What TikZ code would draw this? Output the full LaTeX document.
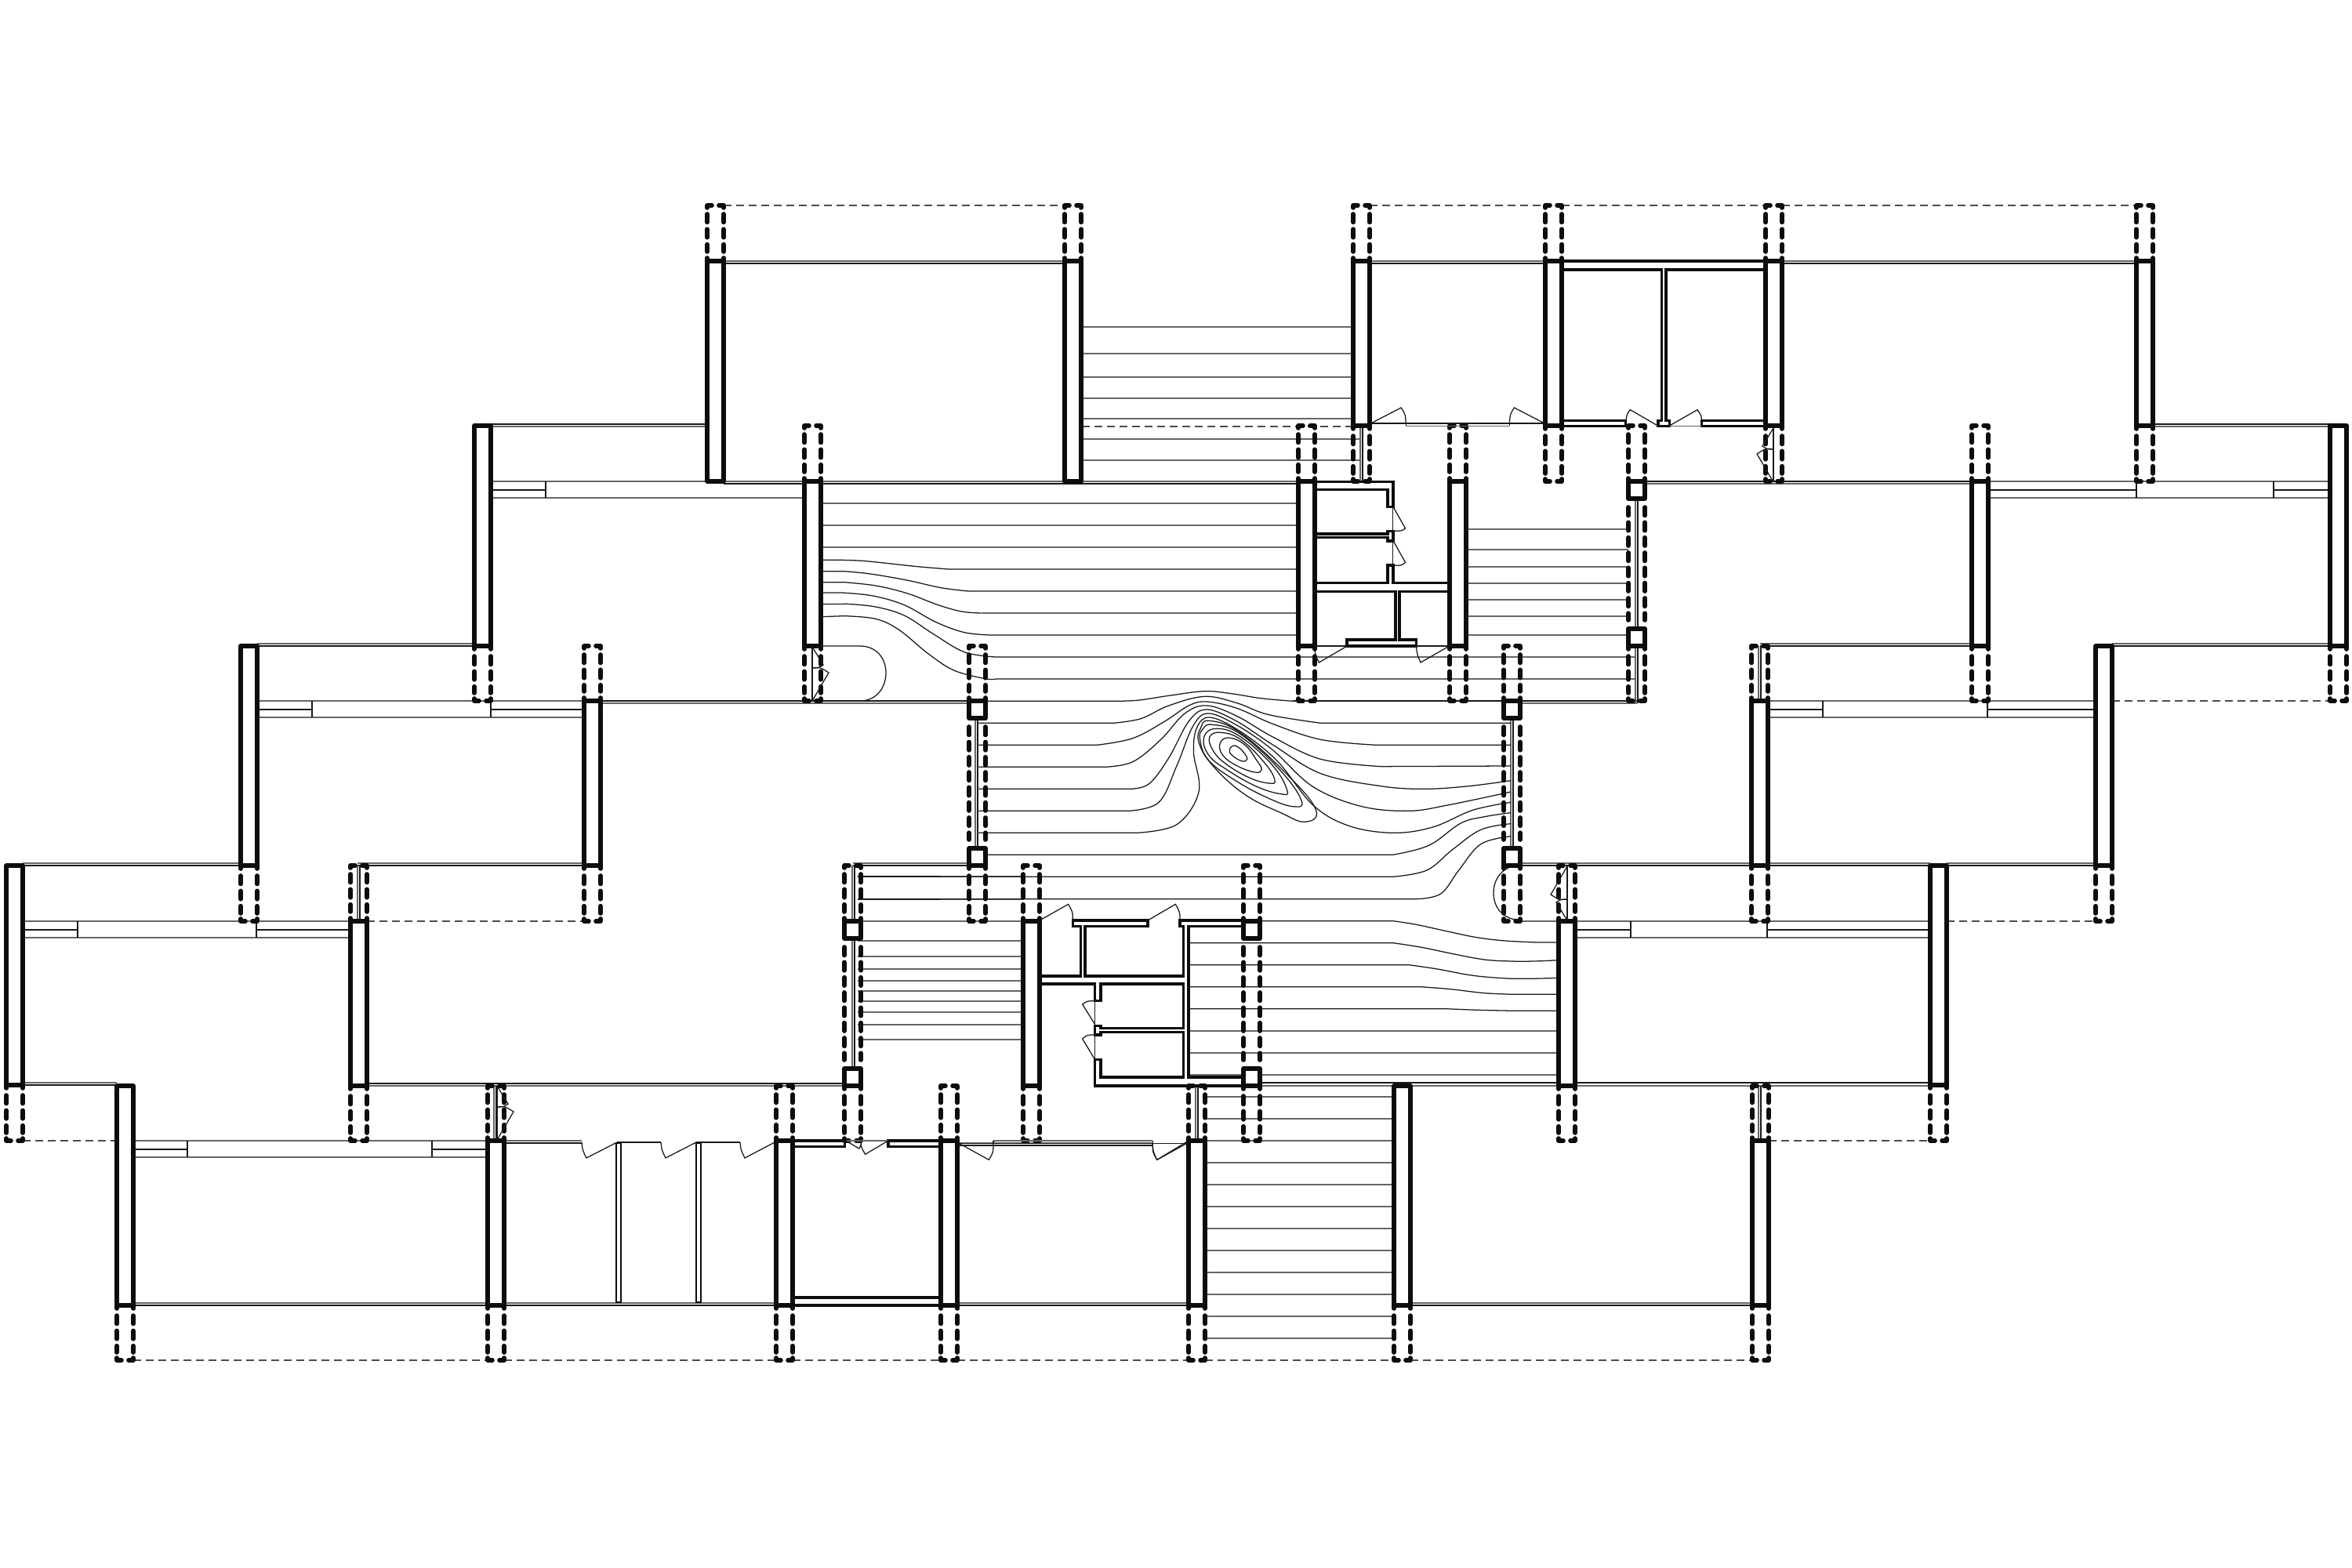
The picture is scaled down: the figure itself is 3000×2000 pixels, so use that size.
\documentclass[tikz,border=0pt]{standalone}
\colorlet{wallc}{black!95}
\tikzset{
 wall/.style={line width=1.6pt,draw=wallc,fill=white,line join=round},
 corew/.style={line width=1pt,draw=wallc,line join=miter},
 dashw/.style={line width=1.6pt,draw=wallc,line cap=round,dash pattern=on .105cm off .088cm},
 hookw/.style={line width=1.6pt,draw=wallc,line cap=round,line join=round},
 tl/.style={line width=.36pt,draw=black!90},
 gl/.style={line width=.42pt,draw=black!60},
 dl/.style={line width=.36pt,draw=black!70,dash pattern=on .1cm off .06cm},
}
\newcommand{\wSolid}[3]{\draw[wall] (#1,#2) rectangle (#1+21,#3);}
\newcommand{\wV}[3]{\draw[dashw] (#1,#2)--(#1,#3);\draw[dashw] (#1+21,#2)--(#1+21,#3);}
\newcommand{\wUp}[3]{\wV{#1}{#2+11}{#3-12}
 \draw[hookw] (#1,#2+3)--(#1,#2)--(#1+6,#2);\draw[hookw] (#1+21,#2+3)--(#1+21,#2)--(#1+15,#2);
 \draw[hookw] (#1,#3-4)--(#1,#3);\draw[hookw] (#1+21,#3-4)--(#1+21,#3);}
\newcommand{\wDn}[3]{\wV{#1}{#2+13}{#3-10}
 \draw[hookw] (#1,#3-3)--(#1,#3)--(#1+6,#3);\draw[hookw] (#1+21,#3-3)--(#1+21,#3)--(#1+15,#3);
 \draw[hookw] (#1,#2+4)--(#1,#2);\draw[hookw] (#1+21,#2+4)--(#1+21,#2);}
\newcommand{\wMid}[3]{\wV{#1}{#2+11}{#3-11}}
\newcommand{\wBox}[5]{\wUp{#1}{#2}{#3}\wSolid{#1}{#3}{#3+22}\wMid{#1}{#3+22}{#4-22}\wSolid{#1}{#4-22}{#4}\wDn{#1}{#4}{#5}}
\newcommand{\wDbl}[4]{\draw[gl] (#1,#3)--(#2,#3);\draw[tl] (#1,#4)--(#2,#4);}
\newcommand{\vDbl}[3]{\draw[gl] (#1,#2)--(#1,#3);\draw[tl] (#1+3,#2)--(#1+3,#3);}
\newcommand{\hL}[3]{\draw[gl] (#1,#3)--(#2,#3);}
\newcommand{\dashL}[3]{\draw[dl] (#1,#3)--(#2,#3);}
\newcommand{\doorv}[4]{\begin{scope}[shift={(#1,#2)},xscale=#3,yscale=#4]
 \draw[tl] (0,0)--(0,69);
 \draw[tl] (0,0)--(14,23) .. controls (8,27) .. (0,27);
 \draw[tl] (0,69)--(21,33) .. controls (10,26) .. (0,27);
 \end{scope}}
\newcommand{\winband}[7]{% x1 x2 y vert1 vert2 mid-end mid-start
 \draw[gl] (#1,#3)--(#2,#3);\draw[gl] (#1,#3+21)--(#2,#3+21);
 \draw[tl] (#4,#3)--(#4,#3+21);\draw[tl] (#5,#3)--(#5,#3+21);
 \draw[tl] (#1,#3+11)--(#6,#3+11);\draw[tl] (#7,#3+11)--(#2,#3+11);}
\begin{document}
\begin{tikzpicture}[x=0.01cm,y=-0.01cm]
\useasboundingbox[fill=white] (0,0) rectangle (3000,2000);

% ---- thin dashed outer lines
\dashL{923}{1358}{262}\dashL{1747}{1971}{262}\dashL{1992}{2252}{262}\dashL{2273}{2725}{262}
\dashL{1380}{1726}{544}
\dashL{2694}{2972}{894}
\dashL{468}{745}{1175}\dashL{2483}{2673}{1175}
\dashL{29}{149}{1455}\dashL{2256}{2462}{1455}
\dashL{170}{622}{1735}\dashL{643}{990}{1735}\dashL{1011}{1200}{1735}\dashL{1221}{1516}{1735}\dashL{1537}{1778}{1735}\dashL{1799}{2235}{1735}

% ---- double wall lines
\wDbl{923}{1358}{333}{336}\wDbl{1747}{1971}{333}{336}\wDbl{2273}{2725}{333}{336}
\wDbl{626}{902}{544}{541}\wDbl{2747}{2972}{544}{541}
\wDbl{923}{1656}{614}{617}\wDbl{2097}{2515}{617}{614}
\wDbl{328}{605}{821}{824}\wDbl{2245}{2515}{821}{824}\wDbl{2694}{2972}{821}{824}
\wDbl{745}{1236}{897}{894}\wDbl{1940}{2088}{897}{894}
\wDbl{29}{307}{1101}{1104}\wDbl{456}{745}{1101}{1104}\wDbl{1088}{1236}{1101}{1104}\wDbl{1940}{2234}{1101}{1104}\wDbl{2245}{2462}{1101}{1104}\wDbl{2483}{2673}{1101}{1104}
\wDbl{29}{149}{1381}{1384}\wDbl{468}{1077}{1385}{1382}\wDbl{1607}{2462}{1385}{1381}
\wDbl{170}{990}{1662}{1665}\wDbl{1221}{1516}{1662}{1665}\wDbl{1799}{2235}{1662}{1665}
\wDbl{643}{742}{1455}{1458}\wDbl{1221}{1470}{1458}{1461}
\draw[tl] (787,1457)--(843,1457) (888,1457)--(944,1457);

% ---- window bands
\winband{626}{1026}{614}{696}{696}{696}{1026}
\winband{328}{745}{894}{398}{626}{398}{626}
\winband{2256}{2673}{894}{2325}{2535}{2325}{2535}
\winband{29}{447}{1175}{99}{327}{99}{327}
\winband{2010}{2462}{1175}{2080}{2254}{2080}{2254}
\winband{170}{622}{1455}{239}{551}{239}{551}
\winband{2536}{2972}{614}{2725}{2900}{2725}{2900}
\draw[gl] (1940,1175)--(1988,1175);

% ---- vertical windows
\vDbl{1735}{543}{614}\vDbl{2086}{637}{802}\vDbl{2086}{824}{897}
\vDbl{1244}{917}{1082}\vDbl{1927}{917}{1082}
\vDbl{1087}{1104}{1175}\vDbl{1087}{1196}{1363}
\vDbl{456}{1104}{1175}\vDbl{630}{1385}{1455}\vDbl{2243}{824}{894}\vDbl{2243}{1385}{1455}
\vDbl{1525}{1385}{1455}

% ---- stair lines
\foreach \y in {417,451,481,508,534}{\hL{1380}{1726}{\y}}
\foreach \y in {560,587}{\hL{1380}{1735}{\y}}
\foreach \y in {642,670}{\hL{1047}{1656}{\y}}
\foreach \y in {675,701,723,744,765,786,810}{\hL{1870}{2077}{\y}}
\hL{1047}{1656}{698}
\hL{1210}{1656}{726}\hL{1235}{1656}{754}\hL{1252}{1656}{782}\hL{1263}{1656}{810}
\foreach \y in {838,866}{\hL{1270}{2086}{\y}}
\draw[tl] (1649,894)--(1918,894);
\foreach \y in {1200,1220,1236,1251,1264,1277,1291,1307,1326}{\hL{1094}{1305}{\y}}
\foreach \y in {1118,1147,1175}{\hL{1094}{1305}{\y}}
\foreach \y in {1315,1343,1371}{\hL{1516}{1988}{\y}}
\foreach \y in {1399,1427,1455,1483,1511,1539,1567,1595,1623,1651,1679,1707}{\hL{1537}{1778}{\y}}

% ---- curved contours, left group
\begin{scope}[shift={(1040,600)},xscale=.33333,yscale=.33333]
\draw[tl] (20,343) -- plot[smooth,tension=.6] coordinates {(100,343)(180,346)(280,356)(390,368)(510,378)};
\draw[tl] (20,386) -- plot[smooth,tension=.6] coordinates {(110,386)(210,396)(350,420)(480,449)(585,462)};
\draw[tl] (20,428) -- plot[smooth,tension=.6] coordinates {(110,428)(230,441)(350,470)(470,515)(560,540)(635,546)};
\draw[tl] (20,468) -- plot[smooth,tension=.6] coordinates {(100,468)(220,480)(340,515)(460,580)(570,620)(670,630)};
\draw[tl] (20,512) -- plot[smooth,tension=.6] coordinates {(120,511)(230,522)(340,555)(450,625)(570,695)(690,714)};
\draw[tl] (20,560) -- plot[smooth,tension=.6] coordinates {(110,557)(230,568)(320,610)(430,700)(530,765)(650,797)(690,798)};
\draw[tl] (20,672)--(170,672) .. controls (235,672) and (270,720) .. (270,775) .. controls (270,830) and (235,882) .. (170,882);
\end{scope}

% ---- curved contours, central group
\begin{scope}[shift={(1200,800)},xscale=.5102,yscale=.33333]
\draw[tl] (115,283) -- plot[smooth,tension=.6] coordinates {(420,283)(490,280)(570,262)(660,245)(730,255)(800,272)(880,283)};
\draw[tl] (95,367) -- plot[smooth,tension=.6] coordinates {(430,367)(500,350)(570,300)(660,265)(740,290)(820,335)(950,367)} -- (1425,367);
\draw[tl] (95,451) -- plot[smooth,tension=.6] coordinates {(390,451)(480,425)(560,360)(620,300)(665,285)(740,310)(830,370)(950,430)(1090,451)} -- (1425,451);
\draw[tl] (95,535) -- plot[smooth,tension=.6] coordinates {(410,535)(480,515)(550,430)(610,330)(665,300)(740,340)(830,420)(950,505)(1100,533)} -- (1425,531);
\draw[tl] (95,619) -- plot[smooth,tension=.6] coordinates {(470,619)(520,600)(570,500)(620,360)(665,315)(740,360)(830,450)(950,560)(1100,608)(1210,619)(1320,608)(1425,587)};
\draw[tl] (95,703) -- plot[smooth,tension=.6] coordinates {(470,703)(545,670)(590,530)(630,380)(668,330)(740,375)(830,470)(930,610)(1050,685)(1170,703)(1270,680)(1425,630)};
\draw[tl] (95,787) -- plot[smooth,tension=.6] coordinates {(490,787)(590,755)(645,630)(632,480)(640,385)(672,345)(745,395)(840,510)(930,680)(1020,760)(1130,787)(1230,765)(1330,700)(1425,670)};
\draw[tl] (115,871) -- plot[smooth,tension=.6] coordinates {(1130,871)(1220,835)(1300,750)(1360,725)(1425,710)};
\draw[tl] (0,955) -- plot[smooth,tension=.6] coordinates {(1130,955)(1215,930)(1280,850)(1350,775)(1425,752)};
\draw[tl] (0,1040) -- plot[smooth,tension=.6] coordinates {(1190,1040)(1250,1020)(1295,930)(1350,830)(1425,800)};
\draw[tl] plot[smooth cycle,tension=.7] coordinates {(735,453)(755,475)(766,505)(752,512)(728,490)(722,468)};
\draw[tl] plot[smooth cycle,tension=.7] coordinates {(720,423)(760,450)(790,510)(802,545)(785,555)(740,530)(705,490)(698,445)};
\draw[tl] plot[smooth cycle,tension=.7] coordinates {(700,403)(750,430)(810,520)(835,585)(820,597)(770,575)(710,520)(680,470)(672,420)};
\draw[tl] plot[smooth cycle,tension=.7] coordinates {(690,388)(750,420)(830,530)(866,625)(850,638)(790,610)(720,550)(670,490)(658,420)};
\draw[tl] plot[smooth cycle,tension=.7] coordinates {(680,373)(750,410)(850,550)(902,665)(880,686)(820,655)(740,590)(670,510)(648,430)(655,390)};
\draw[tl] plot[smooth cycle,tension=.7] coordinates {(672,358)(750,405)(870,570)(938,700)(910,745)(850,710)(760,640)(680,530)(645,440)(650,385)};
\end{scope}
\draw[tl] (1094,1118)--(1200,1118) (1094,1147)--(1200,1147);

% ---- curved contours, right group
\begin{scope}[shift={(1600,1150)},xscale=.33333,yscale=.33333]
\draw[tl] (20,74) -- plot[smooth,tension=.6] coordinates {(530,74)(620,88)(730,112)(850,137)(960,150)(1080,156)} -- (1165,156);
\draw[tl] (-252,158) -- plot[smooth,tension=.6] coordinates {(530,158)(640,175)(760,200)(880,222)(980,228)(1070,228)(1165,224)};
\draw[tl] (-252,242) -- plot[smooth,tension=.6] coordinates {(590,242)(700,258)(830,282)(950,293)(1040,295)(1165,292)};
\draw[tl] (-252,326) -- plot[smooth,tension=.6] coordinates {(635,326)(750,335)(880,350)(1000,355)} -- (1165,355);
\draw[tl] (-252,410) -- plot[smooth,tension=.6] coordinates {(730,410)(860,415)(1000,418)} -- (1165,418);
\end{scope}
% half round end by the right stair
\draw[tl] (1930,1105) .. controls (1915,1108) and (1905,1122) .. (1905,1139) .. controls (1905,1156) and (1915,1170) .. (1933,1173);

% ---- piers
\wSolid{902}{333}{614}\wUp{902}{262}{333}
\wSolid{1358}{333}{614}\wUp{1358}{262}{333}
\foreach \x in {1726,1971,2252,2725}{\wSolid{\x}{333}{543}\wUp{\x}{262}{333}\wDn{\x}{543}{614}}
\wBox{2077}{543}{614}{824}{894}
\wSolid{605}{543}{824}\wDn{605}{824}{894}
\foreach \x in {1026,1656,1849,2515}{\wUp{\x}{543}{614}\wSolid{\x}{614}{824}\wDn{\x}{824}{894}}
\wSolid{2972}{543}{824}\wDn{2972}{824}{894}
\wSolid{307}{824}{1104}\wDn{307}{1104}{1175}
\foreach \x in {745,2234}{\wUp{\x}{824}{894}\wSolid{\x}{894}{1104}\wDn{\x}{1104}{1175}}
\wBox{1236}{824}{894}{1104}{1175}
\wBox{1918}{824}{894}{1104}{1175}
\wSolid{2673}{824}{1104}\wDn{2673}{1104}{1175}
\wSolid{8}{1104}{1384}\wDn{8}{1384}{1455}
\foreach \x in {447,1305,1988}{\wUp{\x}{1104}{1175}\wSolid{\x}{1175}{1385}\wDn{\x}{1385}{1455}}
\wBox{1077}{1104}{1175}{1385}{1455}
\wBox{1586}{1104}{1175}{1385}{1455}
\wSolid{2462}{1104}{1384}\wDn{2462}{1384}{1455}
\foreach \x in {149,1778}{\wSolid{\x}{1385}{1665}\wDn{\x}{1665}{1735}}
\foreach \x in {622,990,1200,1516,2235}{\wUp{\x}{1385}{1455}\wSolid{\x}{1455}{1665}\wDn{\x}{1665}{1735}}

% ---- thin solid partitions
\draw[corew,line width=.7pt] (786,1458) rectangle (792,1661);
\draw[corew,line width=.7pt] (888,1458) rectangle (894,1661);

% ---- core 1
\begin{scope}[shift={(1620,520)},xscale=.35714,yscale=.33333]
\draw[corew] (160,283)--(440,283)--(440,380)--(420,380)--(420,313)--(160,313);
\draw[corew] (160,483)--(420,483)--(420,472)--(440,472)--(440,510)--(420,510)--(420,497)--(160,497);
\draw[corew] (160,670)--(420,670)--(420,603)--(440,603)--(440,670)--(640,670);
\draw[corew] (160,703)--(448,703)--(448,888)--(275,888)--(275,912)--(522,912)--(522,888)--(462,888)--(462,703)--(640,703);
\draw[tl] (438,380)--(438,603) (160,912)--(275,912) (522,912)--(640,912);
\draw[tl] (440,380)--(483,462) .. controls (470,472) .. (440,472);
\draw[tl] (440,510)--(483,592) .. controls (470,604) .. (440,604);
\draw[tl] (275,912)--(175,975) .. controls (162,950) .. (160,925);
\draw[tl] (640,912)--(538,975) .. controls (525,945) .. (522,912);
% top wall and doors between the piers 1726 and 1971
\draw[tl] (360,60)--(980,60);
\draw[gl] (485,70)--(855,70);
\draw[tl] (485,70)--(485,60) (855,70)--(855,60);
\draw[tl] (360,60)--(468,0) .. controls (483,25) .. (485,60);
\draw[tl] (980,60)--(872,0) .. controls (857,25) .. (855,60);
\end{scope}

% ---- core 2
\begin{scope}[shift={(1280,1100)},xscale=.33333,yscale=.33333]
\draw[corew] (138,435)--(295,435)--(295,245)--(265,245)--(265,222)--(552,222)--(552,245)--(312,245)--(312,435)--(688,435)--(688,245)--(675,245)--(675,222)--(918,222);
\draw[corew] (918,245)--(708,245)--(708,822)--(918,822);
\draw[corew] (138,465)--(350,465)--(350,530)--(372,530)--(372,465)--(688,465)--(688,635)--(372,635)--(372,625)--(350,625)--(350,660)--(372,660)--(372,650)--(688,650)--(688,822)--(372,822)--(372,755)--(350,755)--(350,855)--(918,855);
\draw[tl] (350,530)--(350,755);
\draw[tl] (350,620)--(302,543) .. controls (320,530) .. (350,530);
\draw[tl] (350,755)--(302,675) .. controls (320,660) .. (350,660);
\draw[tl] (138,222)--(248,160) .. controls (265,190) .. (265,222);
\draw[tl] (552,222)--(658,160) .. controls (675,190) .. (675,222);
\draw[tl] (708,1065)--(587,1138) .. controls (572,1105) .. (570,1075);
\end{scope}

% ---- rooms and doors in the bottom row
\begin{scope}[shift={(960,1380)},xscale=.38270,yscale=.33333]
\draw[corew] (133,225)--(307,225)--(307,248)--(133,248);
\draw[corew] (628,225)--(452,225)--(452,248)--(628,248);
\draw[corew] (133,825)--(628,825);
\draw[corew,line width=1.2pt] (133,855)--(628,855);
\draw[gl] (310,225)--(452,225);
\draw[tl] (310,225)--(355,255) .. controls (362,240) .. (362,225);
\draw[tl] (452,225)--(375,277) .. controls (362,250) .. (360,228);
\draw[tl] (688,235)--(1447,235);
\draw[gl] (802,225)--(1333,225);
\draw[tl] (802,225)--(802,235) (1333,225)--(1333,235);
\draw[tl] (688,235)--(787,298) .. controls (802,270) .. (802,235);
\draw[tl] (1447,235)--(1348,298) .. controls (1333,270) .. (1333,235);
\end{scope}
% doors of the three small rooms on the left
\draw[tl] (742,1457) .. controls (743,1467) .. (748,1477) -- (787,1457);
\draw[tl] (843,1457) .. controls (844,1467) .. (849,1477) -- (888,1457);
\draw[tl] (944,1457) .. controls (945,1467) .. (950,1477) -- (988,1457);

% ---- core 3
\begin{scope}[shift={(1960,320)},xscale=.33333,yscale=.33333]
\draw[corew,line width=1.2pt] (97,40)--(875,40);
\draw[corew] (97,72)--(478,72)--(478,650)--(465,650)--(465,670)--(508,670)--(508,650)--(495,650)--(495,72)--(875,72);
\draw[corew] (97,650)--(340,650)--(340,670)--(97,670);
\draw[corew] (875,650)--(632,650)--(632,670)--(875,670);
\draw[gl] (508,670)--(632,670);
\draw[tl] (465,670)--(358,608) .. controls (345,625) .. (342,650);
\draw[tl] (510,668)--(615,608) .. controls (630,630) .. (632,650);
\end{scope}

% ---- leaf doors in the window slots
\doorv{1036}{825}{1}{1}
\doorv{634}{1385}{1}{1}
\doorv{1999}{1174}{-1}{-1}
\doorv{2262}{546}{-1}{1}
\end{tikzpicture}
\end{document}
